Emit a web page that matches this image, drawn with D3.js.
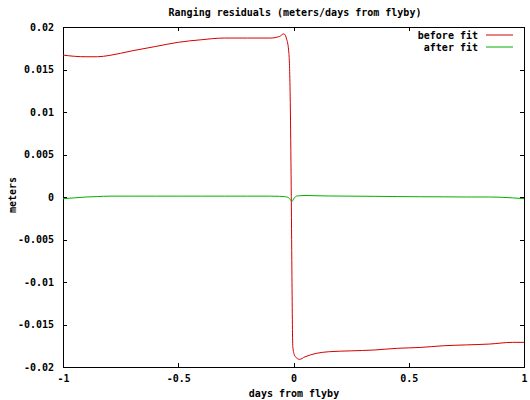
<!DOCTYPE html>
<html>
<head>
    <title>Ranging residuals</title>
    <script src="https://d3js.org/d3.v7.min.js"></script>
    <style>
        body { margin: 0; background: #fff; }
        text { font-family: "DejaVu Sans Mono", monospace; font-weight: bold; font-size: 10px; fill: #000; }
    </style>
</head>
<body>
    <div id="chart"></div>
    <script>
        // data
        const days = [-1, -0.95, -0.9, -0.85, -0.8, -0.7, -0.6, -0.5, -0.4, -0.3, -0.2, -0.1, -0.06,
            -0.042, -0.029, -0.02, -0.014, -0.01, -0.007, -0.003, 0.004, 0.012, 0.026, 0.05, 0.098,
            0.156, 0.25, 0.35, 0.45, 0.55, 0.65, 0.75, 0.85, 0.95, 1.0];
        const beforeFit = [0.0167, 0.01655, 0.0165, 0.0165, 0.01665, 0.0172, 0.0177, 0.0182, 0.0185, 0.0187, 0.0187, 0.0187, 0.0189,
            0.0192, 0.0185, 0.0169, 0.0111, 0.0012, -0.0086, -0.0176, -0.0186, -0.0189, -0.0191, -0.0188, -0.0184,
            -0.0182, -0.0181, -0.0180, -0.0178, -0.0177, -0.0175, -0.0174, -0.0173, -0.0171, -0.0171];
        const afterFit = [-0.0002, -0.0001, 0.0, 0.00005, 0.0001, 0.0001, 0.0001, 0.0001, 0.0001, 0.0001, 0.0001, 0.0001, 0.00008,
            0.00005, 0.0, -0.0001, -0.0003, -0.00045, -0.00055, -0.0004, -0.0001, 0.0001, 0.00015, 0.00018, 0.00015,
            0.00012, 0.0001, 0.00008, 0.00005, 0.00003, 0.00002, 0.0, 0.0, -0.0001, -0.0002];

        const xTicks = [-1, -0.5, 0, 0.5, 1];
        const xTickLabels = ["-1", "-0.5", "0", "0.5", "1"];
        const yTicks = [0.02, 0.015, 0.01, 0.005, 0, -0.005, -0.01, -0.015, -0.02];
        const yTickLabels = ["0.02", "0.015", "0.01", "0.005", "0", "-0.005", "-0.01", "-0.015", "-0.02"];

        const width = 530, height = 400;
        const margin = { top: 27, right: 6, bottom: 33, left: 63 };

        const svg = d3.select("#chart").append("svg")
            .attr("width", width)
            .attr("height", height);

        const x = d3.scaleLinear().domain([-1, 1]).range([margin.left, width - margin.right]);
        const y = d3.scaleLinear().domain([-0.02, 0.02]).range([height - margin.bottom, margin.top]);

        // axes: gnuplot style, ticks inside and mirrored
        const tickLen = 4;
        svg.append("g")
            .attr("transform", `translate(0,${y(-0.02)})`)
            .call(d3.axisBottom(x).tickValues(xTicks).tickSize(-tickLen).tickPadding(8)
                .tickFormat((d, i) => xTickLabels[i]))
            .call(g => g.select(".domain").remove());
        svg.append("g")
            .attr("transform", `translate(0,${y(0.02)})`)
            .call(d3.axisTop(x).tickValues(xTicks).tickSize(-tickLen).tickFormat(""))
            .call(g => g.select(".domain").remove());
        svg.append("g")
            .attr("transform", `translate(${x(-1)},0)`)
            .call(d3.axisLeft(y).tickValues(yTicks).tickSize(-tickLen).tickPadding(9)
                .tickFormat((d, i) => yTickLabels[i]))
            .call(g => g.select(".domain").remove());
        svg.append("g")
            .attr("transform", `translate(${x(1)},0)`)
            .call(d3.axisRight(y).tickValues(yTicks).tickSize(-tickLen).tickFormat(""))
            .call(g => g.select(".domain").remove());

        svg.selectAll(".tick line").attr("stroke", "#000").attr("shape-rendering", "crispEdges");
        svg.selectAll(".tick text").style("font-family", "DejaVu Sans Mono").style("font-weight", "bold").style("font-size", "10px");

        // border
        svg.append("rect")
            .attr("x", x(-1))
            .attr("y", y(0.02))
            .attr("width", x(1) - x(-1))
            .attr("height", y(-0.02) - y(0.02))
            .attr("fill", "none")
            .attr("stroke", "#000")
            .attr("shape-rendering", "crispEdges");

        const line = d3.line().curve(d3.curveMonotoneX);

        svg.append("path")
            .attr("d", line(days.map((d, i) => [x(d), y(beforeFit[i])])))
            .attr("fill", "none")
            .attr("stroke", "#d40000")
            .attr("stroke-width", 1);

        svg.append("path")
            .attr("d", line(days.map((d, i) => [x(d), y(afterFit[i])])))
            .attr("fill", "none")
            .attr("stroke", "#00b000")
            .attr("stroke-width", 1);

        // legend
        const legend = [["before fit", "#d40000"], ["after fit", "#00b000"]];
        legend.forEach(([label, color], i) => {
            const ly = 35 + i * 12;
            svg.append("text")
                .attr("x", 478)
                .attr("y", ly)
                .attr("dy", "0.35em")
                .attr("text-anchor", "end")
                .text(label);
            svg.append("line")
                .attr("x1", 486).attr("x2", 513)
                .attr("y1", ly).attr("y2", ly)
                .attr("stroke", color);
        });

        // titles
        svg.append("text")
            .attr("x", 295)
            .attr("y", 12)
            .attr("dy", "0.35em")
            .attr("text-anchor", "middle")
            .text("Ranging residuals (meters/days from flyby)");

        svg.append("text")
            .attr("x", 294)
            .attr("y", 393)
            .attr("dy", "0.35em")
            .attr("text-anchor", "middle")
            .text("days from flyby");

        svg.append("text")
            .attr("transform", "translate(12,195) rotate(-90)")
            .attr("dy", "0.35em")
            .attr("text-anchor", "middle")
            .text("meters");
    </script>
</body>
</html>
